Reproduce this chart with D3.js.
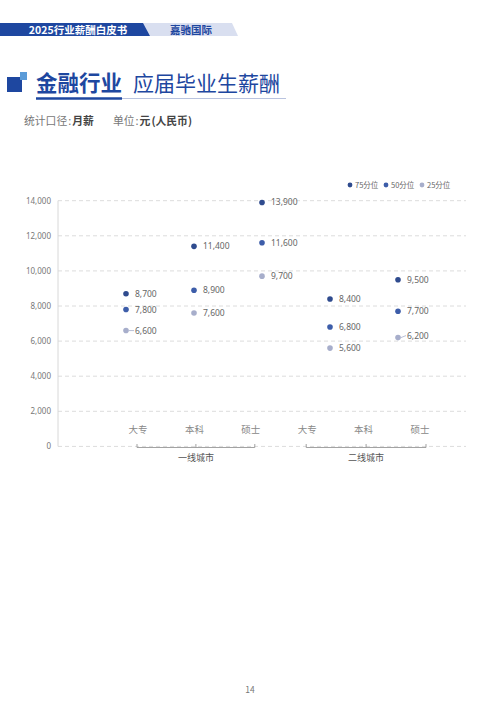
<!DOCTYPE html>
<html>
<head>
<meta charset="utf-8">
<script src="https://cdn.jsdelivr.net/npm/d3@7"></script>
<style>
  body { margin: 0; background: #fff; }
  svg { display: block; font-family: "Noto Sans CJK SC", "Noto Sans", sans-serif; }
</style>
</head>
<body>
<script>
// 数据
const cities = ['一线城市', '二线城市']
const degrees = ['大专', '本科', '硕士']
const columns = ['一线-大专', '一线-本科', '一线-硕士', '二线-大专', '二线-本科', '二线-硕士']
const p75 = [8700, 11400, 13900, 8400, 9500, null]
const p50 = [7800, 8900, 11600, 6800, 7700, null]
const p25 = [6600, 7600, 9700, 5600, 6200, null]
const seriesNames = ['75分位', '50分位', '25分位']
const yTicks = [0, 2000, 4000, 6000, 8000, 10000, 12000, 14000]

const W = 500, H = 707
const colors = ['#2f4b8e', '#3d5da9', '#a7aecb']
const navy = '#1e47a0'

let svg = d3.select('body').append('svg')
    .attr('width', W)
    .attr('height', H)

// 顶部横条
svg.append('path')
    .attr('d', 'M0,23 L232,23 L238,36 L0,36 Z')
    .attr('fill', '#d9dff0')
svg.append('path')
    .attr('d', 'M0,23 L143,23 L150,36 L0,36 Z')
    .attr('fill', navy)
svg.append('text')
    .attr('x', 78).attr('y', 33.5)
    .attr('text-anchor', 'middle')
    .attr('fill', '#fff')
    .attr('font-size', 10.5)
    .attr('font-weight', 'bold')
    .text('2025行业薪酬白皮书')
svg.append('text')
    .attr('x', 191).attr('y', 33.5)
    .attr('text-anchor', 'middle')
    .attr('fill', navy)
    .attr('font-size', 10.5)
    .attr('font-weight', 'bold')
    .text('嘉驰国际')

// 标题
svg.append('rect').attr('x', 7).attr('y', 77).attr('width', 15).attr('height', 15).attr('fill', navy)
svg.append('rect').attr('x', 20).attr('y', 72).attr('width', 7).attr('height', 8).attr('fill', '#5b9bd8')
svg.append('text')
    .attr('x', 36).attr('y', 91)
    .attr('fill', navy)
    .attr('font-size', 21.5)
    .attr('font-weight', 'bold')
    .text('金融行业')
svg.append('text')
    .attr('x', 133).attr('y', 91)
    .attr('fill', navy)
    .attr('font-size', 21)
    .text('应届毕业生薪酬')
svg.append('line')
    .attr('x1', 122).attr('x2', 286).attr('y1', 98.5).attr('y2', 98.5)
    .attr('stroke', '#b9c3df').attr('stroke-width', 1)
svg.append('line')
    .attr('x1', 36).attr('x2', 122).attr('y1', 98.5).attr('y2', 98.5)
    .attr('stroke', navy).attr('stroke-width', 2.5)

// 副标题
let sub = svg.append('text').attr('x', 24).attr('y', 125).attr('font-size', 10.8)
sub.append('tspan').attr('fill', '#777').text('统计口径')
sub.append('tspan').attr('fill', '#777').attr('dx', 1).text(':')
sub.append('tspan').attr('fill', '#444').attr('font-weight', 'bold').attr('dx', 1).text('月薪')
let sub2 = svg.append('text').attr('x', 113).attr('y', 125).attr('font-size', 10.8)
sub2.append('tspan').attr('fill', '#777').text('单位')
sub2.append('tspan').attr('fill', '#777').attr('dx', 1).text(':')
sub2.append('tspan').attr('fill', '#444').attr('font-weight', 'bold').attr('dx', 1).text('元')
sub2.append('tspan').attr('fill', '#444').attr('font-weight', 'bold').attr('dx', 1).text('(人民币)')

// 坐标
const plotL = 58, plotR = 466, plotT = 200.7, plotB = 446.4
let y = d3.scaleLinear().domain([0, 14000]).range([plotB, plotT])
let xDot = d3.scalePoint().domain(columns).range([126, 466])
let xLabel = d3.scalePoint().domain(columns).range([138, 420])

// 网格
svg.append('g')
    .selectAll('line')
    .data(yTicks)
    .enter()
    .append('line')
    .attr('x1', plotL).attr('x2', plotR)
    .attr('y1', d => y(d)).attr('y2', d => y(d))
    .attr('stroke', '#dcdcdc')
    .attr('stroke-dasharray', '4,3')

svg.append('line')
    .attr('x1', plotL).attr('x2', plotL)
    .attr('y1', plotT).attr('y2', plotB)
    .attr('stroke', '#d8d8d8')

let yAxis = svg.append('g')
    .attr('transform', 'translate(' + (plotL - 4) + ',0)')
    .call(d3.axisLeft(y).tickValues(yTicks).tickSize(0).tickFormat(d3.format(',')))
yAxis.select('.domain').remove()
yAxis.selectAll('text')
    .attr('fill', '#777')
    .attr('font-size', 8)
    .attr('font-family', '"Noto Sans", sans-serif')

// 分类标签
svg.append('g')
    .selectAll('text')
    .data(columns)
    .enter()
    .append('text')
    .attr('x', d => xLabel(d))
    .attr('y', 432.5)
    .attr('text-anchor', 'middle')
    .attr('fill', '#888')
    .attr('font-size', 9.5)
    .text((d, i) => degrees[i % 3])

// 分组括号
cities.forEach((c, gi) => {
    let cols = columns.slice(gi * 3, gi * 3 + 3)
    let x0 = xLabel(cols[0]) - 1, x2 = xLabel(cols[2]) + 4 + gi * 2
    let x1 = (x0 + x2) / 2
    let g = svg.append('g').attr('stroke', '#999').attr('stroke-width', 0.9)
    g.append('line').attr('x1', x0).attr('x2', x2).attr('y1', 447.5).attr('y2', 447.5)
    ;[x0, x1, x2].forEach(xx => {
        g.append('line').attr('x1', xx).attr('x2', xx).attr('y1', 444).attr('y2', 447.5)
    })
    svg.append('text')
        .attr('x', x1).attr('y', 461)
        .attr('text-anchor', 'middle')
        .attr('fill', '#555')
        .attr('font-size', 9)
        .text(c)
})

// 数据点
let allSeries = [p75, p50, p25]
allSeries.forEach((vals, si) => {
    let pts = vals.map((v, i) => ({ col: columns[i], v: v })).filter(d => d.v != null)
    let g = svg.append('g')
    g.selectAll('circle')
        .data(pts)
        .enter()
        .append('circle')
        .attr('cx', d => xDot(d.col))
        .attr('cy', d => y(d.v))
        .attr('r', 2.8)
        .attr('fill', colors[si])
    // 低分位有引线
    let lifted = si == 2 ? [columns[0], columns[4]] : []
    g.selectAll('line')
        .data(pts.filter(d => lifted.includes(d.col)))
        .enter()
        .append('line')
        .attr('x1', d => xDot(d.col) + 3)
        .attr('x2', d => xDot(d.col) + 8)
        .attr('y1', d => y(d.v))
        .attr('y2', d => y(d.v) - (d.col == columns[4] ? 2 : 0))
        .attr('stroke', colors[si])
        .attr('stroke-width', 0.8)
    g.selectAll('text')
        .data(pts)
        .enter()
        .append('text')
        .attr('x', d => xDot(d.col) + 9)
        .attr('y', d => y(d.v) + 3 - (d.col == columns[4] && si == 2 ? 2 : 0))
        .attr('fill', '#666')
        .attr('font-size', 8.5)
        .attr('font-family', '"Noto Sans", sans-serif')
        .text(d => d3.format(',')(d.v))
})

// 图例
let legendX = [350, 386, 422]
let legend = svg.append('g')
    .selectAll('g')
    .data(seriesNames)
    .enter()
    .append('g')
    .attr('transform', (d, i) => 'translate(' + legendX[i] + ',185)')
legend.append('circle').attr('r', 2.4).attr('fill', (d, i) => colors[i])
legend.append('text')
    .attr('x', 5).attr('y', 3)
    .attr('fill', '#666')
    .attr('font-size', 7.5)
    .text(d => d)

// 页码
svg.append('text')
    .attr('x', 250).attr('y', 693)
    .attr('text-anchor', 'middle')
    .attr('fill', '#777')
    .attr('font-size', 8.5)
    .text('14')
</script>
</body>
</html>
